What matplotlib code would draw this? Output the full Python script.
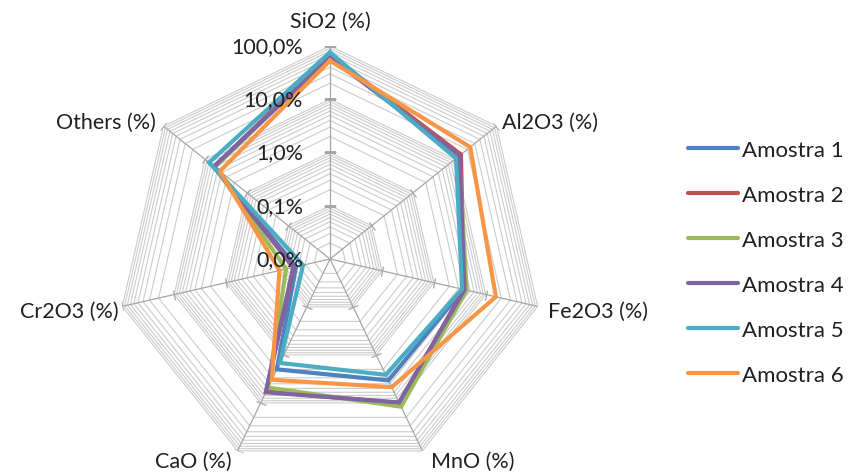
import numpy as np
import matplotlib
matplotlib.use('Agg')
import matplotlib.pyplot as plt
from matplotlib.lines import Line2D
from matplotlib.markers import MarkerStyle

plt.rcParams['font.family'] = ['Lato', 'DejaVu Sans']

## Data (fractions, shown as %)
oxides = ['SiO2 (%)', 'Al2O3 (%)', 'Fe2O3 (%)', 'MnO (%)', 'CaO (%)', 'Cr2O3 (%)', 'Others (%)']
amostra_1 = [0.70, 0.120, 0.037, 0.034, 0.020, 0.00045, 0.060]
amostra_2 = [0.68, 0.140, 0.038, 0.100, 0.058, 0.00050, 0.060]
amostra_3 = [0.66, 0.125, 0.043, 0.120, 0.048, 0.00070, 0.058]
amostra_4 = [0.61, 0.130, 0.039, 0.098, 0.060, 0.00051, 0.061]
amostra_5 = [0.76, 0.107, 0.035, 0.026, 0.0147, 0.00033, 0.080]
amostra_6 = [0.53, 0.234, 0.157, 0.047, 0.033, 0.00094, 0.044]
series_names = ['Amostra 1', 'Amostra 2', 'Amostra 3', 'Amostra 4', 'Amostra 5', 'Amostra 6']
series_values = [amostra_1, amostra_2, amostra_3, amostra_4, amostra_5, amostra_6]
colors = ['#4F81BD', '#C0504D', '#9BBB59', '#8064A2', '#4BACC6', '#F79646']

major_levels = [0.0001, 0.001, 0.01, 0.1, 1.0]
major_labels = ['0,0%', '0,1%', '1,0%', '10,0%', '100,0%']

TXT = '#202020'

## Figure
fig = plt.figure(figsize=(8.5, 4.77), dpi=100)
ax = fig.add_axes([0.1376, 0.0085, 0.5012, 0.893], projection='polar')
ax.set_theta_zero_location('N')
ax.set_theta_direction(-1)
ax.set_rscale('log')
ax.set_rlim(1e-4, 1.0)
ax.grid(False)
ax.spines['polar'].set_visible(False)
ax.set_xticks([])
ax.set_yticks([], minor=False)
ax.set_yticks([], minor=True)
ax.patch.set_alpha(0)

n = len(oxides)
theta = np.arange(n) * 2 * np.pi / n
theta_closed = np.append(theta, theta[0])

# polygon grid: every log step inside each decade
for d in range(-4, 0):
    for k in range(1, 10):
        lev = k * 10.0 ** d
        ax.plot(theta_closed, [lev] * (n + 1), color='#CCCCCC', lw=0.8, zorder=1)
ax.plot(theta_closed, [1.0] * (n + 1), color='#CCCCCC', lw=0.8, zorder=1)

# spokes and tick marks
for i, t in enumerate(theta):
    ax.plot([t, t], [1e-4, 1.0], color='#A6A6A6', lw=0.9, zorder=2)
    deg = np.degrees(t)
    ax.plot([t] * 4, major_levels[1:], linestyle='none',
            marker=MarkerStyle('_').rotated(deg=-deg), markersize=8,
            markeredgecolor='#A6A6A6', markeredgewidth=0.9, zorder=2)

# value labels along the top spoke
for lev, lab in zip(major_levels, major_labels):
    ax.annotate(lab, xy=(0, lev), xytext=(-27, 0), textcoords='offset pixels',
                ha='right', va='center', fontsize=15.5, color=TXT, zorder=30)

# category labels
label_offsets = [(0, 25, 'center', 'center'),
                 (6, 4, 'left', 'center'),
                 (10, -5, 'left', 'center'),
                 (50, -10, 'center', 'center'),
                 (-44, -10, 'center', 'center'),
                 (-4, -5, 'right', 'center'),
                 (-8, 4, 'right', 'center')]
for t, name, (dx, dy, ha, va) in zip(theta, oxides, label_offsets):
    ax.annotate(name, xy=(t, 1.0), xytext=(dx, dy), textcoords='offset pixels',
                ha=ha, va=va, fontsize=15.5, color=TXT, annotation_clip=False)

# series
for j, (name, vals, c) in enumerate(zip(series_names, series_values, colors)):
    ax.plot(theta_closed, list(vals) + [vals[0]], color=c, lw=3.0,
            solid_joinstyle='miter', zorder=5 + j, label=name)

handles = [Line2D([], [], color=c, lw=3.0, solid_capstyle='round') for c in colors]
leg = fig.legend(handles, series_names, loc='upper left', bbox_to_anchor=(0.809, 0.704),
                 frameon=False, fontsize=16, handlelength=2.25, handletextpad=0.2,
                 labelspacing=1.12, borderpad=0, borderaxespad=0)
for txt in leg.get_texts():
    txt.set_color(TXT)

fig.savefig('out.png', dpi=100)
